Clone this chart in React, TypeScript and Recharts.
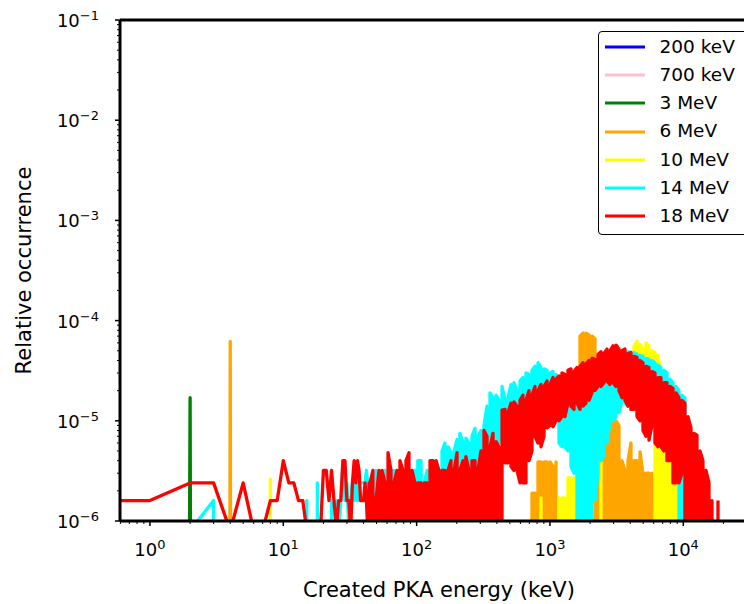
import { Legend, Line, LineChart, ReferenceLine, XAxis, YAxis } from "recharts";

const FONT = "'DejaVu Sans', sans-serif";

// occurrence values below are written in units of 1e-6
const UNIT = 1e-6;
// empty bins: clipped far below the axis (like matplotlib's log clipping)
const ZERO = 1e-100;

const seriesNames = ["200 keV", "700 keV", "3 MeV", "6 MeV", "10 MeV", "14 MeV", "18 MeV"];
const seriesColors = ["#0000ff", "#ffc0cb", "#008000", "#ffa500", "#ffff00", "#00ffff", "#ff0000"];

const xTicks = [
  0.6, 0.7, 0.8, 0.9, 1, 2, 3, 4, 5, 6, 7, 8, 9, 10, 20, 30, 40, 50, 60, 70, 80, 90,
  100, 200, 300, 400, 500, 600, 700, 800, 900, 1000, 2000, 3000, 4000, 5000, 6000,
  7000, 8000, 9000, 10000, 20000, 30000,
];
const yTicks = [
  1e-6, 2e-6, 3e-6, 4e-6, 5e-6, 6e-6, 7e-6, 8e-6, 9e-6,
  1e-5, 2e-5, 3e-5, 4e-5, 5e-5, 6e-5, 7e-5, 8e-5, 9e-5,
  1e-4, 2e-4, 3e-4, 4e-4, 5e-4, 6e-4, 7e-4, 8e-4, 9e-4,
  1e-3, 2e-3, 3e-3, 4e-3, 5e-3, 6e-3, 7e-3, 8e-3, 9e-3,
  1e-2, 2e-2, 3e-2, 4e-2, 5e-2, 6e-2, 7e-2, 8e-2, 9e-2, 1e-1,
];

// low-energy bins, [energy keV, occurrence]
const blue200Low: [number, number][] = [];
const pink700Low: [number, number][] = [];
const green3Low: [number, number][] = [[1, 0], [2, 17], [3, 0]];
const orange6Low: [number, number][] = [[3, 0], [4, 62], [5, 0]];
const yellow10Low: [number, number][] = [[7, 0], [8, 2.6], [9, 0]];
const cyan14Low: [number, number][] = [
  [1, 0], [2, 0.8], [3, 1.6], [4, 0], [14, 0], [15, 1.6], [16, 0], [17, 0], [18, 2.4], [19, 0],
  [20, 0], [21, 0.8], [22, 0], [23, 1.6], [24, 0], [25, 1.6], [26, 0.8], [27, 1.6], [28, 4.0],
  [29, 1.6], [30, 2.4], [31, 0.8], [32, 1.6], [33, 2.4], [34, 1.6], [35, 2.4], [36, 1.6],
  [37, 2.4], [38, 2.4], [39, 2.4], [40, 2.4], [41, 2.4], [42, 3.2], [43, 2.4], [44, 1.6],
];
const red18Low: [number, number][] = [
  [0.5, 1.6], [1, 1.6], [2, 2.4], [3, 2.4], [4, 0.8], [5, 2.4], [6, 0.8], [7, 0.8], [8, 1.6],
  [9, 1.6], [10, 4.0], [11, 2.4], [12, 2.4], [13, 1.6], [14, 1.6], [15, 0.8], [16, 0], [17, 0.8],
  [18, 0], [19, 0.8], [20, 3.2], [21, 3.2], [22, 1.6], [23, 3.2], [24, 1.6], [25, 0.8], [26, 1.6],
  [27, 1.6], [28, 4.0], [29, 4.0], [30, 1.6], [31, 1.6], [32, 0.8], [33, 2.4], [34, 4.0],
  [35, 2.4], [36, 4.0], [37, 3.2], [38, 1.6], [39, 1.6], [40, 1.6], [41, 2.4], [42, 1.6],
  [43, 0.8], [44, 2.4],
];

// dense region: energies where the band is read, with the band's top (hi) and bottom (lo)
const gridE = [
  44.7, 47.0, 49.5, 52.2, 55.0, 57.9, 61.0, 64.2, 67.6, 71.2,
  75.0, 79.0, 83.2, 87.6, 92.3, 97.2, 102, 108, 114, 120,
  126, 133, 140, 147, 155, 163, 172, 181, 191, 201,
  211, 223, 234, 247, 260, 274, 288, 304, 320, 337,
  355, 374, 394, 414, 437, 460, 484, 510, 537, 566,
  596, 627, 661, 696, 733, 772, 813, 856, 902, 950,
  1000, 1053, 1109, 1168, 1230, 1295, 1365, 1437, 1514, 1594,
  1679, 1768, 1862, 1961, 2065, 2175, 2291, 2413, 2541, 2676,
  2818, 2968, 3126, 3292, 3467, 3652, 3846, 4050, 4266, 4493,
  4732, 4983, 5248, 5527, 5821, 6130, 6457, 6800, 7161, 7542,
  7943, 8365, 8810, 9279, 9772, 10290, 10840, 11410, 12020, 12660,
  13340, 14040, 14790, 15580, 16410, 17280, 18200,
];

const red18Hi = [
  2.4, 3.2, 1.6, 3.2, 3.2, 2.4, 4.8, 3.2, 2.4, 3.2,
  4.0, 3.2, 4.0, 4.8, 3.2, 2.4, 2.4, 2.4, 2.4, 2.4,
  4.0, 4.0, 4.0, 3.2, 3.2, 3.2, 3.2, 4.0, 3.2, 4.8,
  3.2, 4.0, 4.4, 3.2, 4.0, 4.0, 3.2, 5.0, 8.0, 7.0,
  5.5, 7.5, 6.2, 5.5, 12.8, 13, 12, 15, 15.4, 14,
  16, 18, 16, 20, 18, 22, 20, 23, 22, 25,
  23, 27, 26, 28, 30, 29, 32, 33, 31, 34,
  35, 38, 37, 40, 42, 41, 46, 49, 47, 52,
  50, 56, 57, 52, 50, 52, 47, 48, 44, 43,
  40, 38, 35, 34, 31, 30, 27, 27, 24, 24,
  22, 21, 19, 17, 16, 15, 11, 8.5, 7.5, 7.2,
  5.0, 4.0, 3.2, 2.4, 1.6, 0, 1.6,
];
const red18Lo = [
  0, 0, 0, 0, 0, 0, 1.5, 1.5, 0, 0,
  0, 0, 0, 0, 0, 0, 0, 1.5, 0, 0,
  0, 0, 0, 0, 0, 1.5, 0, 0, 0, 0,
  0, 0, 0, 0, 0, 0, 0, 0, 0, 0,
  0, 0, 0, 0, 2.3, 3.8, 3.8, 3.5, 3.2, 3.2,
  2.4, 2.4, 2.4, 4.0, 5.0, 7.0, 6.0, 5.5, 7.0, 8.5,
  9.0, 8.7, 10, 10, 11, 11, 15, 14, 13, 15,
  13, 14, 15, 16, 19, 20, 22, 22, 24, 25,
  23, 24, 22, 20, 17, 16, 14, 13, 13, 11,
  10, 8, 7, 6.4, 9, 6, 5.5, 5.5, 5, 4,
  4, 2.4, 2.4, 2.4, 3, 0, 0, 0, 0, 0,
  0, 0, 0, 0, 0, 0, 0,
];
const cyan14Hi = [
  2.4, 1.6, 3.2, 2.4, 2.4, 3.2, 2.4, 3.3, 3.2, 2.4,
  3.2, 2.4, 3.2, 2.4, 2.4, 3.2, 4.0, 4.0, 2.4, 3.2,
  3.2, 3.2, 3.2, 3.2, 5.0, 6.0, 5.5, 4.8, 5.0, 6.5,
  7.5, 6.0, 6.7, 6.0, 7.0, 8.4, 7.0, 8.0, 9.0, 14,
  19, 17, 18, 16, 22, 16, 17, 23, 24, 20,
  25, 27, 30, 29, 32, 35, 38, 34, 33, 32,
  30, 31, 29, 22, 24, 25, 25, 26, 27, 26,
  28, 30, 32, 33, 35, 36, 38, 42, 44, 46,
  46, 48, 50, 50, 50, 50, 49, 48, 48, 46,
  45, 44, 42, 41, 40, 38, 36, 34, 32, 30,
  26, 24, 22, 20, 18, 17, 0, 0, 0, 0,
  0, 0, 0, 0, 0, 0, 0,
];
const cyan14Lo = [
  0, 0, 0, 0, 0, 0, 0, 0, 0, 0,
  0, 0, 0, 0, 0, 0, 0, 0, 0, 0,
  0, 0, 0, 0, 0, 0, 0, 0, 0, 0,
  0, 0, 0, 0, 0, 0, 0, 0, 0, 0,
  0, 0, 0, 6, 8, 8, 8, 9, 9, 9,
  9, 10, 10, 10, 10, 11, 11, 11, 12, 12,
  12, 12, 12, 6, 5.5, 5.5, 5, 3.5, 3, 2.4,
  0, 0, 0, 0, 1.6, 1.6, 3, 4, 4.5, 6,
  9.5, 10, 11, 12, 16, 15, 14, 13, 20, 20,
  18, 18, 16, 16, 14, 14, 12, 12, 11, 10,
  9, 8, 7, 6, 0, 0, 0, 0, 0, 0,
  0, 0, 0, 0, 0, 0, 0,
];
const orange6Hi = [
  0, 0, 0, 0, 0, 0, 0, 0, 0, 0,
  0, 0, 0, 0, 0, 0, 0, 0, 0, 0,
  0, 0, 0, 0, 0, 0, 0, 0, 0, 0,
  0, 0, 0, 0, 0, 0, 0, 0, 0, 0,
  0, 0, 0, 0, 0, 0, 0, 0, 0, 0,
  0, 0, 0, 0, 1.9, 1.9, 3.9, 3.9, 3.9, 3.9,
  3.9, 3.5, 3.9, 0, 0, 0, 0, 0, 0, 0,
  70, 75, 75, 72, 70, 66, 12, 9, 5, 8,
  10, 11, 10, 9, 4, 3.2, 4, 6, 4, 4,
  4.9, 3, 3, 3, 3, 1.9, 1.9, 0, 0, 0,
  0, 0, 0, 0, 0, 0, 0, 0, 0, 0,
  0, 0, 0, 0, 0, 0, 0,
];
const yellow10Hi: (number | null)[] = [
  0, 0, 0, 0, 0, 0, 0, 0, 0, 0,
  0, 0, 0, 0, 0, 0, 0, 0, 0, 0,
  0, 0, 0, 0, 0, 0, 0, 0, 0, 0,
  0, 0, 0, 0, 0, 0, 0, 0, 0, 0,
  0, 0, 0, 0, 0, 0, 0, 0, 0, 0,
  0, 0, 0, 0, 0, 0, 0, 1.7, 0, 0,
  0, 0, 0, 1.7, 1.7, 1.7, 2.7, 2.7, 2.7, 2.7,
  2.4, 0, 0, 1.5, 1.5, 0, 0, 4, 0, 0,
  0, 0, 0, 0, 0, 0, null, 40, 55, 62,
  58, 52, 60, 56, 50, 48, 45, 30, 20, 10,
  6, 5, 4.5, 3.5, 0, 0, 0, 0, 0, 0,
  0, 0, 0, 0, 0, 0, 0,
];
const yellow10Lo: (number | null)[] = [
  0, 0, 0, 0, 0, 0, 0, 0, 0, 0,
  0, 0, 0, 0, 0, 0, 0, 0, 0, 0,
  0, 0, 0, 0, 0, 0, 0, 0, 0, 0,
  0, 0, 0, 0, 0, 0, 0, 0, 0, 0,
  0, 0, 0, 0, 0, 0, 0, 0, 0, 0,
  0, 0, 0, 0, 0, 0, 0, 0, 0, 0,
  0, 0, 0, 0, 0, 0, 0, 0, 0, 0,
  0, 0, 0, 0, 0, 0, 0, 0, 0, 0,
  0, 0, 0, 0, 0, 0, null, 25, 25, 25,
  25, 25, 25, 25, 25, 25, 0, 0, 0, 0,
  0, 0, 0, 0, 0, 0, 0, 0, 0, 0,
  0, 0, 0, 0, 0, 0, 0,
];

type Pt = { e: number; p: number | null };

const toOcc = (v: number | null) => (v === null ? null : v > 0 ? v * UNIT : ZERO);

// joins the low-energy bins and the hi/lo band into one polyline
function buildSeries(low: [number, number][], hi?: (number | null)[], lo?: (number | null)[]): Pt[] {
  const rows: Pt[] = low.map(([e, v]) => ({ e, p: toOcc(v) }));
  if (!hi) return rows;
  gridE.forEach((e, i) => {
    if (hi[i] === null) {
      rows.push({ e, p: null });
      return;
    }
    const top = toOcc(hi[i]);
    const bottom = toOcc(lo ? lo[i] : 0);
    if (i % 2 === 0) rows.push({ e, p: bottom }, { e, p: top });
    else rows.push({ e, p: top }, { e, p: bottom });
  });
  return rows;
}

const seriesData: Pt[][] = [
  buildSeries(blue200Low),
  buildSeries(pink700Low),
  buildSeries(green3Low),
  buildSeries(orange6Low, orange6Hi),
  buildSeries(yellow10Low, yellow10Hi, yellow10Lo),
  buildSeries(cyan14Low, cyan14Hi, cyan14Lo),
  buildSeries(red18Low, red18Hi, red18Lo),
];

const isDecade = (v: number) => Math.abs(Math.log10(v) - Math.round(Math.log10(v))) < 1e-6;

function Power({ v }: { v: number }) {
  const exp = Math.round(Math.log10(v));
  return (
    <>
      10
      <tspan dy={-7} fontSize={13}>
        {exp < 0 ? `\u2212${-exp}` : `${exp}`}
      </tspan>
    </>
  );
}

function XTick(props: any) {
  const { x, y, payload } = props;
  const major = isDecade(payload.value);
  return (
    <g>
      <line x1={x} x2={x} y1={y} y2={y + (major ? 5 : 3)} stroke="#000" strokeWidth={major ? 1.5 : 1} />
      {major && (
        <text x={x} y={y + 35} textAnchor="middle" fontSize={18} fontFamily={FONT} fill="#000">
          <Power v={payload.value} />
        </text>
      )}
    </g>
  );
}

function YTick(props: any) {
  const { x, y, payload } = props;
  const major = isDecade(payload.value);
  return (
    <g>
      <line x1={x} x2={x - (major ? 5 : 3)} y1={y} y2={y} stroke="#000" strokeWidth={major ? 1.5 : 1} />
      {major && (
        <text x={x - 21} y={y + 7} textAnchor="end" fontSize={18} fontFamily={FONT} fill="#000">
          <Power v={payload.value} />
        </text>
      )}
    </g>
  );
}

function XLabel(props: any) {
  const vb = props.viewBox ?? { x: 120, y: 521, width: 634, height: 83 };
  return (
    <text x={vb.x + vb.width / 2 + 2} y={vb.y + 76} textAnchor="middle" fontSize={21} fontFamily={FONT} fill="#000">
      Created PKA energy (keV)
    </text>
  );
}

function YLabel(props: any) {
  const vb = props.viewBox ?? { x: 0, y: 20, width: 120, height: 501 };
  const cx = 24;
  const cy = vb.y + vb.height / 2;
  return (
    <text
      x={cx}
      y={cy}
      transform={`rotate(-90, ${cx}, ${cy})`}
      textAnchor="middle"
      dominantBaseline="central"
      fontSize={21}
      fontFamily={FONT}
      fill="#000"
    >
      Relative occurrence
    </text>
  );
}

function LegendBox() {
  return (
    <div
      style={{
        border: "1.5px solid #000",
        borderRadius: 4,
        background: "#fff",
        padding: "1px 0 4px 0",
        width: 160,
        fontFamily: FONT,
        fontSize: 18.5,
        color: "#000",
      }}
    >
      {seriesNames.map((name, i) => (
        <div key={name} style={{ display: "flex", alignItems: "center", height: 28.2 }}>
          <svg width={40} height={4} style={{ marginLeft: 5.5, display: "block" }}>
            <line x1={0} x2={40} y1={2} y2={2} stroke={seriesColors[i]} strokeWidth={3} />
          </svg>
          <span style={{ marginLeft: 15, lineHeight: 1, whiteSpace: "nowrap" }}>{name}</span>
        </div>
      ))}
    </div>
  );
}

export default function App() {
  return (
    <div
      style={{
        position: "fixed",
        left: 0,
        top: 0,
        width: 744,
        height: 604,
        overflow: "hidden",
        background: "#fff",
      }}
    >
      <LineChart width={760} height={604} margin={{ top: 20, right: 6, bottom: 0, left: 0 }}>
        <XAxis
          type="number"
          dataKey="e"
          scale="log"
          domain={[0.596, 33900]}
          allowDataOverflow
          ticks={xTicks}
          interval={0}
          tick={(p: any) => <XTick {...p} />}
          tickLine={false}
          tickSize={0}
          tickMargin={0}
          axisLine={{ stroke: "#000", strokeWidth: 3 }}
          height={83}
          label={XLabel}
        />
        <YAxis
          type="number"
          scale="log"
          domain={[1e-6, 1e-1]}
          allowDataOverflow
          ticks={yTicks}
          interval={0}
          tick={(p: any) => <YTick {...p} />}
          tickLine={false}
          tickSize={0}
          tickMargin={0}
          axisLine={{ stroke: "#000", strokeWidth: 3 }}
          width={120}
          label={YLabel}
        />
        {seriesData.map((data, i) => (
          <Line
            key={seriesNames[i]}
            data={data}
            dataKey="p"
            name={seriesNames[i]}
            stroke={seriesColors[i]}
            strokeWidth={3.3}
            strokeLinejoin="round"
            type="linear"
            dot={false}
            activeDot={false}
            isAnimationActive={false}
          />
        ))}
        <ReferenceLine y={1e-1} stroke="#000" strokeWidth={3} />
        <ReferenceLine x={33900} stroke="#000" strokeWidth={3} />
        <Legend
          layout="horizontal"
          align="center"
          verticalAlign="middle"
          wrapperStyle={{ left: 598, top: 31, width: 170, height: "auto" }}
          content={() => <LegendBox />}
        />
      </LineChart>
    </div>
  );
}
